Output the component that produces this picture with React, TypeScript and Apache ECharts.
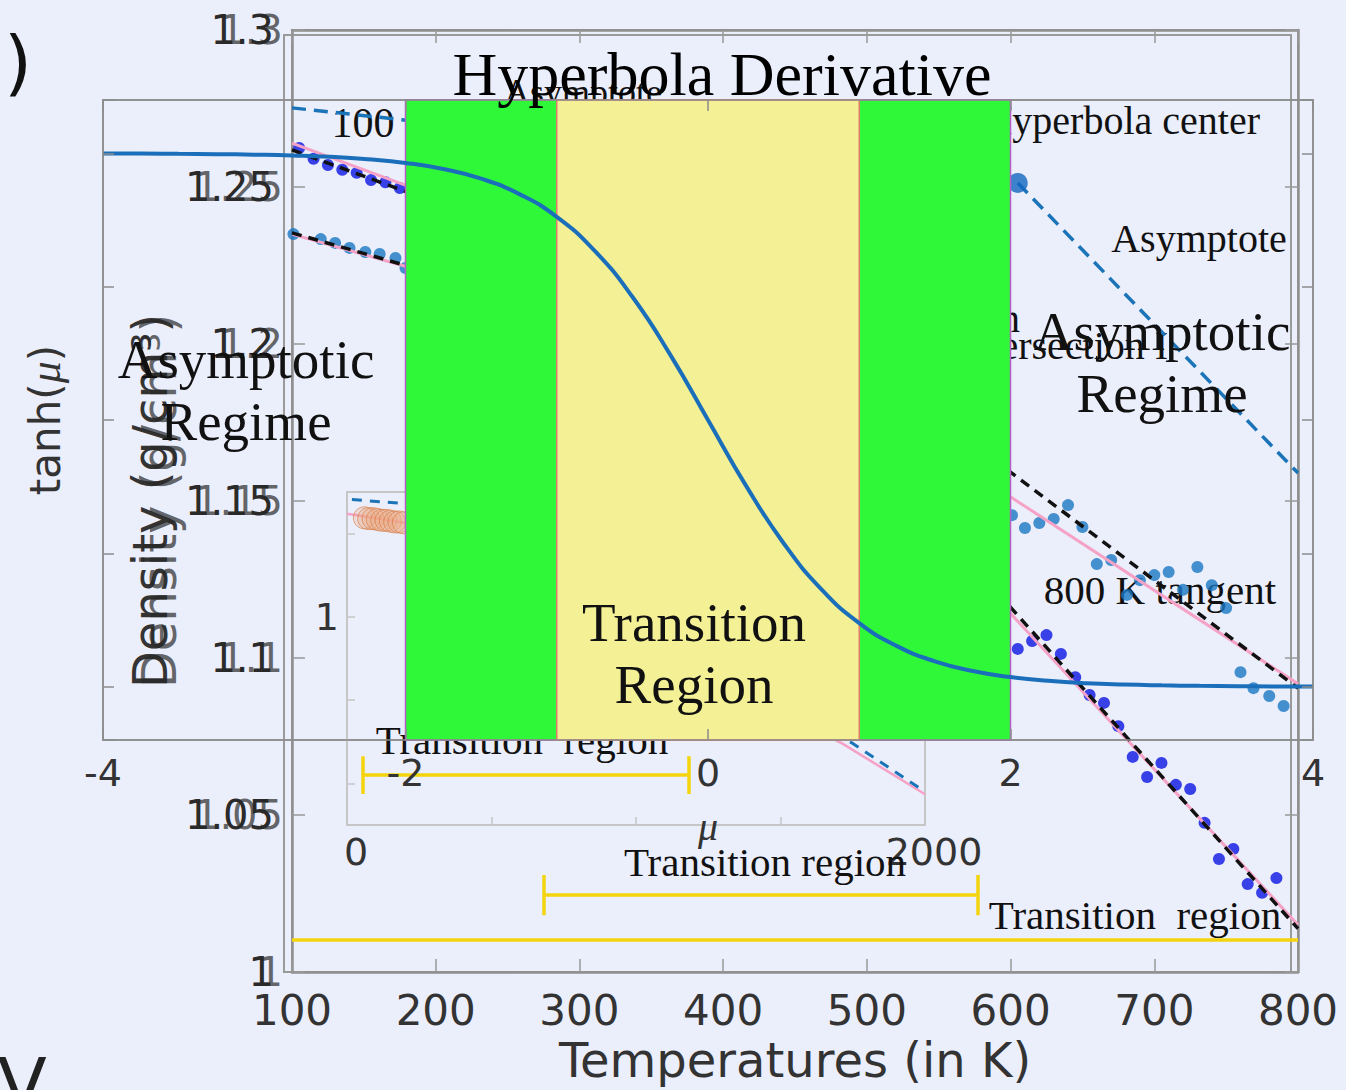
import React, { useEffect, useRef } from "react";
import * as echarts from "echarts";

// ---------- Overlay chart: tanh(mu) ----------
const MU = [-4, -3.75, -3.5, -3.25, -3, -2.75, -2.5, -2.25, -2, -1.75, -1.5, -1.25, -1, -0.75, -0.5, -0.25, 0,
  0.25, 0.5, 0.75, 1, 1.25, 1.5, 1.75, 2, 2.25, 2.5, 2.75, 3, 3.25, 3.5, 3.75, 4];
const TANH_MU = [-0.999, -0.999, -0.998, -0.997, -0.995, -0.992, -0.987, -0.978, -0.964, -0.941, -0.905, -0.848,
  -0.762, -0.635, -0.462, -0.245, 0, 0.245, 0.462, 0.635, 0.762, 0.848, 0.905, 0.941, 0.964, 0.978, 0.987, 0.992,
  0.995, 0.997, 0.998, 0.999, 0.999];
const MU_MIN = -4;
const MU_MAX = 4;
const TANH_MIN = -1.2;
const TANH_MAX = 1.2;
// bands: 0 = asymptotic edge (green), 1 = transition core (yellow)
const BAND_START = [-2, 1, -1];
const BAND_END = [-1, 2, 1];
const BAND_KIND = [0, 0, 1];

// ---------- Background chart: density vs temperature ----------
const T_MIN = 100;
const T_MAX = 800;
const RHO_MIN = 1;
const RHO_MAX = 1.3;

const S1_T_LOW = [105, 115, 125, 135, 145, 155, 165, 175];
const S1_RHO_LOW = [1.2624, 1.259, 1.257, 1.2555, 1.2545, 1.2522, 1.2515, 1.2497];
const S1_T_HIGH = [605, 615, 625, 635, 645, 655, 665, 675, 685, 695, 705, 715, 725, 735, 745, 755, 765, 775, 785];
const S1_RHO_HIGH = [1.1029, 1.1054, 1.1073, 1.1013, 1.0939, 1.0882, 1.0857, 1.0783, 1.0685, 1.0621, 1.0666,
  1.0596, 1.0583, 1.0475, 1.036, 1.0392, 1.028, 1.0252, 1.0299];

const S2_T_LOW = [101, 120, 130, 140, 151, 161, 172, 179];
const S2_RHO_LOW = [1.235, 1.2334, 1.2322, 1.2306, 1.2293, 1.2287, 1.2274, 1.2242];
const S2_T_HIGH = [601, 610, 620, 630, 640, 650, 660, 670, 681, 690, 700, 710, 720, 730, 740, 750, 760, 769, 780, 790];
const S2_RHO_HIGH = [1.1455, 1.1414, 1.143, 1.1443, 1.1487, 1.1417, 1.1299, 1.1312, 1.1201, 1.1248, 1.1264, 1.1274,
  1.1217, 1.129, 1.1232, 1.1159, 1.0955, 1.0904, 1.0879, 1.0847];

// tangent fits (black dashed) and smooth fits (pink)
const LOW_FIT_T = [100, 250];
const S1_LOW_BLACK = [1.2618, 1.2367];
const S1_LOW_PINK = [1.264, 1.2385];
const S2_LOW_BLACK = [1.2354, 1.2157];
const S2_LOW_PINK = [1.235, 1.2155];
const HIGH_FIT_T = [560, 800];
const S2_HIGH_BLACK = [1.1729, 1.0904];
const S2_HIGH_PINK = [1.1632, 1.0918];
const S1_HIGH_BLACK = [1.1366, 1.0138];
const S1_HIGH_PINK = [1.134, 1.015];

// asymptotes (blue dashed) and hyperbola centre
const ASYM1_T = [100, 300];
const ASYM1_RHO = [1.2752, 1.2653];
const ASYM2_T = [605, 800];
const ASYM2_RHO = [1.2513, 1.1589];
const CENTER_T = [605];
const CENTER_RHO = [1.2513];

// transition-region bars (yellow)
const ERR_T_START = [149, 275, 100];
const ERR_T_END = [376, 577, 800];
const ERR_RHO = [1.0627, 1.0245, 1.0102];
const ERR_CAP = [0.006, 0.0064, 0];

// ---------- Inset ----------
const INSET_X_MIN = 0;
const INSET_X_MAX = 2000;
const INSET_Y_MIN = 0.75;
const INSET_Y_MAX = 1.15;
const INSET_DASH_X = [17, 200, 1750, 2000];
const INSET_DASH_Y = [1.141, 1.136, 0.848, 0.79];
const INSET_PINK_X = [0, 200, 1713, 2000];
const INSET_PINK_Y = [1.124, 1.113, 0.848, 0.787];
const INSET_ORANGE_X = [60, 75, 90, 105, 120, 135, 150, 165, 180, 195];
const INSET_ORANGE_Y = [1.119, 1.118, 1.118, 1.117, 1.116, 1.116, 1.115, 1.114, 1.114, 1.113];

const SERIF = '"Liberation Serif", "Times New Roman", serif';
const SANS = '"DejaVu Sans", sans-serif';
const BG = "#ebeefb";

const zip = (xs: number[], ys: number[]) => xs.map((x, i) => [x, ys[i]]);

function bgText(text: string, x: number, y: number, size: number, align = "center", z = 1) {
  return {
    type: "text",
    x,
    y,
    z,
    silent: true,
    style: {
      text,
      fontSize: size,
      fontFamily: SERIF,
      fill: "#111",
      align,
      textAlign: align,
      verticalAlign: "middle",
      textVerticalAlign: "middle",
      lineHeight: 62,
    },
  };
}

export default function App() {
  const ref = useRef<HTMLDivElement>(null);

  useEffect(() => {
    if (!ref.current) return;
    const chart = echarts.init(ref.current, undefined, { renderer: "svg" });

    const errLines: any[] = [];
    ERR_T_START.forEach((t0, i) => {
      const t1 = ERR_T_END[i];
      const r = ERR_RHO[i];
      const c = ERR_CAP[i];
      errLines.push({ coords: [[t0, r], [t1, r]] });
      if (c > 0) {
        errLines.push({ coords: [[t0, r - c], [t0, r + c]] });
        errLines.push({ coords: [[t1, r - c], [t1, r + c]] });
      }
    });

    const overlayAxisLine = { show: true, onZero: false, lineStyle: { color: "#8c8c8c", width: 1.5 } };
    const overlayTick = { show: true, inside: true, length: 11, lineStyle: { color: "#8c8c8c", width: 1.5 } };
    const bgAxisLine = { show: true, onZero: false, lineStyle: { color: "#8f8f8f", width: 2.5 } };
    const bgTick = { show: true, inside: true, length: 13, lineStyle: { color: "#999", width: 1.5 } };
    const insetAxisLine = { show: true, onZero: false, lineStyle: { color: "#c6c6c6", width: 2 } };
    const insetTick = { show: true, inside: true, length: 8, lineStyle: { color: "#c6c6c6", width: 1.5 } };

    const bgLine = (xs: number[], ys: number[], color: string, width: number, type: any, z: number) => ({
      type: "line",
      xAxisIndex: 2,
      yAxisIndex: 2,
      data: zip(xs, ys),
      showSymbol: false,
      silent: true,
      lineStyle: { color, width, type },
      z,
    });
    const insetLine = (xs: number[], ys: number[], color: string, width: number, type: any, z: number) => ({
      type: "line",
      xAxisIndex: 4,
      yAxisIndex: 5,
      data: zip(xs, ys),
      showSymbol: false,
      silent: true,
      lineStyle: { color, width, type },
      z,
    });

    const option: any = {
      animation: false,
      backgroundColor: BG,
      title: {
        text: "Hyperbola Derivative",
        left: 717,
        top: 38,
        textAlign: "center",
        textStyle: { fontFamily: SERIF, fontSize: 62, fontWeight: "normal", color: "#000" },
        z: 20,
      },
      grid: [
        { left: 103, top: 100, width: 1210, height: 640, show: true, borderColor: "#8c8c8c", borderWidth: 1.5, backgroundColor: "transparent" },
        { left: 292, top: 30, width: 1006, height: 942, show: true, borderColor: "#9a9a9a", borderWidth: 2, backgroundColor: "transparent" },
        { left: 347, top: 492, width: 578, height: 333, show: true, borderColor: "#c6c6c6", borderWidth: 2, backgroundColor: "transparent" },
      ],
      xAxis: [
        {
          gridIndex: 0, type: "value", min: MU_MIN, max: MU_MAX, interval: 2, position: "bottom",
          name: "μ", nameLocation: "middle", nameGap: 66,
          nameTextStyle: { fontFamily: SERIF, fontStyle: "italic", fontSize: 40, color: "#333" },
          axisLine: overlayAxisLine, axisTick: overlayTick,
          axisLabel: { fontFamily: SANS, fontSize: 38, color: "#333", margin: 14 },
          splitLine: { show: false }, z: 10,
        },
        {
          gridIndex: 0, type: "value", min: MU_MIN, max: MU_MAX, interval: 2, position: "top",
          axisLine: overlayAxisLine, axisTick: overlayTick, axisLabel: { show: false },
          splitLine: { show: false }, z: 10,
        },
        {
          gridIndex: 1, type: "value", min: T_MIN, max: T_MAX, interval: 100, position: "bottom",
          name: "Temperatures (in K)", nameLocation: "middle", nameGap: 62,
          nameTextStyle: { fontFamily: SANS, fontSize: 48, color: "#333" },
          axisLine: bgAxisLine, axisTick: bgTick,
          axisLabel: { fontFamily: SANS, fontSize: 42, color: "#333", margin: 17 },
          splitLine: { show: false },
        },
        {
          gridIndex: 1, type: "value", min: T_MIN, max: T_MAX, interval: 100, position: "top",
          axisLine: bgAxisLine, axisTick: bgTick, axisLabel: { show: false }, splitLine: { show: false },
        },
        {
          gridIndex: 2, type: "value", min: INSET_X_MIN, max: INSET_X_MAX, interval: 500, position: "bottom",
          axisLine: insetAxisLine, axisTick: insetTick,
          axisLabel: {
            fontFamily: SANS, fontSize: 38, color: "#333", margin: 8, padding: [0, 0, 0, 18],
            formatter: (v: number) => (v === INSET_X_MIN || v === INSET_X_MAX ? String(v) : ""),
          },
          splitLine: { show: false },
        },
      ],
      yAxis: [
        {
          gridIndex: 0, type: "value", min: TANH_MIN, max: TANH_MAX, inverse: true, position: "left",
          name: "tanh({m|μ})", nameLocation: "middle", nameGap: 36,
          nameTextStyle: {
            fontFamily: SANS, fontSize: 42, color: "#333",
            rich: { m: { fontFamily: SERIF, fontStyle: "italic", fontSize: 44, color: "#333" } },
          },
          axisLine: overlayAxisLine, axisTick: overlayTick, axisLabel: { show: false },
          splitLine: { show: false }, z: 10,
        },
        {
          gridIndex: 0, type: "value", min: TANH_MIN, max: TANH_MAX, inverse: true, position: "right",
          axisLine: overlayAxisLine, axisTick: overlayTick, axisLabel: { show: false },
          splitLine: { show: false }, z: 10,
        },
        {
          gridIndex: 1, type: "value", min: RHO_MIN, max: RHO_MAX, interval: 0.05, position: "left",
          name: "Density (g/cm³)", nameLocation: "middle", nameGap: 117,
          nameTextStyle: { fontFamily: SANS, fontSize: 48, color: "#333" },
          axisLine: bgAxisLine, axisTick: bgTick,
          axisLabel: { fontFamily: SANS, fontSize: 40, color: "#2a2a2a", margin: 18 },
          splitLine: { show: false },
        },
        {
          gridIndex: 1, type: "value", min: RHO_MIN, max: RHO_MAX, interval: 0.05, position: "left",
          name: "Density (g/cm³)", nameLocation: "middle", nameGap: 109,
          nameTextStyle: { fontFamily: SANS, fontSize: 48, color: "rgba(40,40,40,0.7)" },
          axisLine: { show: false }, axisTick: { show: false },
          axisLabel: { fontFamily: SANS, fontSize: 40, color: "rgba(40,40,40,0.7)", margin: 9 },
          splitLine: { show: false },
        },
        {
          gridIndex: 1, type: "value", min: RHO_MIN, max: RHO_MAX, interval: 0.05, position: "right",
          axisLine: bgAxisLine, axisTick: bgTick, axisLabel: { show: false }, splitLine: { show: false },
        },
        {
          gridIndex: 2, type: "value", min: INSET_Y_MIN, max: INSET_Y_MAX, position: "left",
          axisLine: insetAxisLine, axisTick: insetTick,
          axisLabel: {
            fontFamily: SANS, fontSize: 38, color: "#333", margin: 8,
            formatter: (v: number) => (Math.abs(v - 1) < 1e-6 ? "1" : ""),
          },
          splitLine: { show: false },
        },
      ],
      graphic: [
        { type: "rect", z: 0, silent: true, shape: { x: 284, y: 35, width: 1007, height: 937 }, style: { fill: "none", stroke: "#9a9a9a", lineWidth: 2 } },
        bgText("100", 363, 123, 42),
        bgText("Asymptote", 583, 92, 36),
        bgText("Hyperbola center", 1260, 120, 40, "right"),
        bgText("Asymptote", 1199, 238, 40),
        bgText("Asymptote extension", 1020, 318, 40, "right"),
        bgText("Intersection I", 956, 345, 40, "left"),
        bgText("800 K tangent", 1160, 590, 41),
        bgText("Transition  region", 522, 740, 41),
        bgText("Transition region", 765, 862, 41),
        bgText("Transition  region", 1135, 915, 41),
        { type: "text", x: 18, y: 62, z: 1, silent: true, style: { text: ")", fontSize: 72, fontFamily: SANS, fill: "#111", align: "center", textAlign: "center", verticalAlign: "middle", textVerticalAlign: "middle" } },
        { type: "text", x: 22, y: 1048, z: 1, silent: true, style: { text: "V", fontSize: 72, fontFamily: SANS, fill: "#222", align: "center", textAlign: "center", verticalAlign: "top", textVerticalAlign: "top" } },
        bgText("Asymptotic\nRegime", 246, 390, 55, "center", 100),
        bgText("Asymptotic\nRegime", 1162, 362, 55, "center", 100),
        bgText("Transition\nRegion", 694, 653, 55, "center", 100),
      ],
      series: [
        // ----- background -----
        bgLine(ASYM1_T, ASYM1_RHO, "#1b74b8", 3.5, [14, 8], 3),
        bgLine(ASYM2_T, ASYM2_RHO, "#1b74b8", 3.5, [14, 8], 3),
        {
          type: "scatter", xAxisIndex: 2, yAxisIndex: 2, data: zip(CENTER_T, CENTER_RHO),
          symbolSize: 20, itemStyle: { color: "#1467c0" }, z: 4, silent: true,
        },
        {
          type: "scatter", xAxisIndex: 2, yAxisIndex: 2,
          data: zip(S1_T_LOW, S1_RHO_LOW).concat(zip(S1_T_HIGH, S1_RHO_HIGH)),
          symbolSize: 12, itemStyle: { color: "#0b14e4" }, z: 2, silent: true,
        },
        {
          type: "scatter", xAxisIndex: 2, yAxisIndex: 2,
          data: zip(S2_T_LOW, S2_RHO_LOW).concat(zip(S2_T_HIGH, S2_RHO_HIGH)),
          symbolSize: 12, itemStyle: { color: "#1a78c4" }, z: 2, silent: true,
        },
        bgLine(LOW_FIT_T, S1_LOW_PINK, "#f5a2c6", 3, "solid", 3),
        bgLine(LOW_FIT_T, S2_LOW_PINK, "#f5a2c6", 3, "solid", 3),
        bgLine(HIGH_FIT_T, S2_HIGH_PINK, "#f5a2c6", 3, "solid", 3),
        bgLine(HIGH_FIT_T, S1_HIGH_PINK, "#f5a2c6", 3, "solid", 3),
        bgLine(LOW_FIT_T, S1_LOW_BLACK, "#111", 3.5, [10, 7], 4),
        bgLine(LOW_FIT_T, S2_LOW_BLACK, "#111", 3.5, [10, 7], 4),
        bgLine(HIGH_FIT_T, S2_HIGH_BLACK, "#111", 3.5, [10, 7], 4),
        bgLine(HIGH_FIT_T, S1_HIGH_BLACK, "#111", 3.5, [10, 7], 4),
        {
          type: "lines", coordinateSystem: "cartesian2d", xAxisIndex: 2, yAxisIndex: 2,
          data: errLines, silent: true,
          lineStyle: { color: "#f4d40c", width: 3.5, opacity: 1, curveness: 0 }, z: 3,
        },
        // ----- inset -----
        insetLine(INSET_PINK_X, INSET_PINK_Y, "#f5a2c6", 2.5, "solid", 3),
        insetLine(INSET_DASH_X, INSET_DASH_Y, "#1b74b8", 3, [10, 8], 3),
        {
          type: "scatter", xAxisIndex: 4, yAxisIndex: 5, data: zip(INSET_ORANGE_X, INSET_ORANGE_Y),
          symbolSize: 22, silent: true,
          itemStyle: { color: "rgba(238,170,130,0.35)", borderColor: "rgba(215,122,64,0.8)", borderWidth: 1 }, z: 3,
        },
        // ----- overlay -----
        {
          type: "custom", xAxisIndex: 0, yAxisIndex: 0, z: 5, silent: true,
          data: BAND_START.map((s, i) => [s, BAND_END[i], BAND_KIND[i]]),
          renderItem: (_params: any, api: any) => {
            const s = api.value(0);
            const e = api.value(1);
            const core = api.value(2) === 1;
            const a = api.coord([s, TANH_MIN]);
            const b = api.coord([e, TANH_MAX]);
            return {
              type: "rect",
              shape: {
                x: Math.min(a[0], b[0]), y: Math.min(a[1], b[1]),
                width: Math.abs(b[0] - a[0]), height: Math.abs(b[1] - a[1]),
              },
              style: {
                fill: core ? "#f3f096" : "#2ff838",
                stroke: core ? "#e47b6c" : "#b45ec6",
                lineWidth: 1.5,
              },
            };
          },
        },
        {
          type: "line", xAxisIndex: 0, yAxisIndex: 0, data: zip(MU, TANH_MU),
          smooth: true, showSymbol: false, silent: true,
          lineStyle: { color: "#1b6fba", width: 4 }, z: 6,
        },
      ],
    };

    chart.setOption(option);
    return () => chart.dispose();
  }, []);

  return (
    <div
      ref={ref}
      style={{ position: "absolute", left: 0, top: 0, width: 1346, height: 1090, background: BG }}
    />
  );
}
